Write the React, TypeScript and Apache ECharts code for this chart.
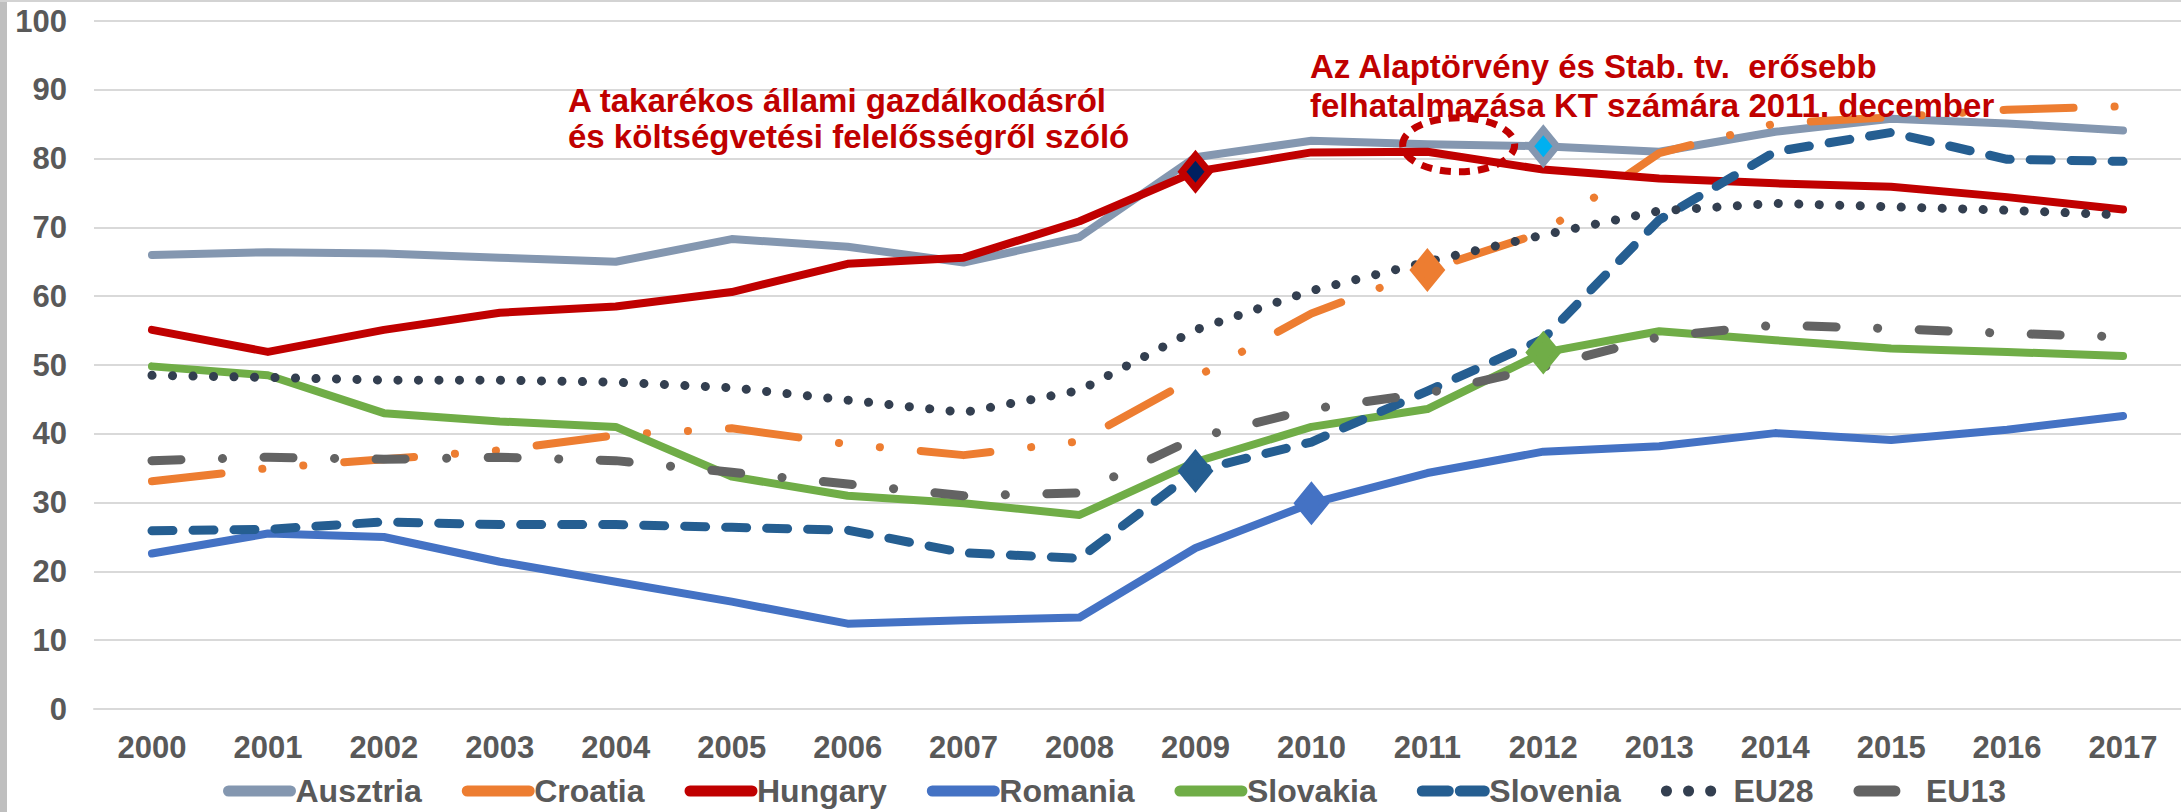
import React, { useEffect, useRef } from "react";
import * as echarts from "echarts";

// ---------------- data ----------------
const YEARS = ["2000", "2001", "2002", "2003", "2004", "2005", "2006", "2007", "2008", "2009", "2010", "2011", "2012", "2013", "2014", "2015", "2016", "2017"];

const AUSZTRIA = [66.0, 66.4, 66.2, 65.6, 65.0, 68.3, 67.2, 64.9, 68.6, 80.2, 82.6, 82.1, 81.8, 81.0, 83.9, 85.8, 85.1, 84.1];
const CROATIA = [33.1, 35.0, 36.3, 37.6, 39.8, 40.8, 38.5, 36.9, 38.9, 48.2, 57.5, 63.8, 69.3, 80.8, 85.1, 86.0, 87.1, 87.6];
const HUNGARY = [55.1, 51.9, 55.1, 57.6, 58.5, 60.6, 64.7, 65.6, 70.9, 78.1, 80.9, 81.0, 78.4, 77.1, 76.4, 75.9, 74.4, 72.6];
const ROMANIA = [22.6, 25.5, 25.0, 21.4, 18.5, 15.6, 12.4, 12.9, 13.3, 23.4, 29.9, 34.3, 37.4, 38.2, 40.1, 39.1, 40.6, 42.6];
const SLOVAKIA = [49.8, 48.5, 43.0, 41.8, 41.0, 33.8, 31.0, 29.9, 28.2, 35.9, 41.0, 43.6, 51.8, 54.9, 53.6, 52.4, 51.9, 51.3];
const SLOVENIA = [25.9, 26.1, 27.2, 26.8, 26.8, 26.4, 26.0, 22.7, 21.9, 34.6, 38.8, 46.2, 53.8, 71.1, 81.0, 83.8, 79.9, 79.6];
const EU28 = [48.5, 48.2, 47.8, 47.8, 47.5, 46.7, 44.9, 43.1, 46.3, 55.1, 60.8, 65.0, 68.9, 72.4, 73.5, 73.0, 72.5, 71.8];
const EU13 = [36.1, 36.6, 36.3, 36.6, 36.1, 34.4, 32.7, 31.0, 31.4, 39.4, 43.6, 45.9, 49.7, 54.1, 55.8, 55.3, 54.6, 54.1];

const Y_MIN = 0;
const Y_MAX = 100;
const Y_STEP = 10;

const NOTE_1 = ["A takarékos állami gazdálkodásról", "és költségvetési felelősségről szóló"];
const NOTE_2 = ["Az Alaptörvény és Stab. tv.  erősebb", "felhatalmazása KT számára 2011. december"];

// highlighted points (series name, year index)
const MARKERS = [
  { series: "Hungary", index: 9, fill: "#002060", border: "#C00000" },
  { series: "Ausztria", index: 12, fill: "#00B0F0", border: "#8497B0" },
  { series: "Croatia", index: 11, fill: "#ED7D31", border: "#ED7D31" },
  { series: "Slovenia", index: 9, fill: "#255E91", border: "#255E91" },
  { series: "Romania", index: 10, fill: "#4472C4", border: "#4472C4" },
  { series: "Slovakia", index: 12, fill: "#70AD47", border: "#70AD47" },
];

// dotted ellipse annotation around 2011 (year index, value)
const ELLIPSE = { index: 11.27, value: 82.0, rx: 56, ry: 27 };

// ---------------- styles ----------------
const FONT = '"Liberation Sans", Arial, Helvetica, sans-serif';
const TEXT_GRAY = "#595959";
const NOTE_RED = "#C00000";

const SERIES_DEFS = [
  { name: "Ausztria", data: AUSZTRIA, color: "#8497B0", width: 8, type: "solid" as any },
  { name: "Croatia", data: CROATIA, color: "#ED7D31", width: 8, type: [70, 41, 0.1, 41, 0.1, 41] },
  { name: "Hungary", data: HUNGARY, color: "#C00000", width: 8, type: "solid" as any },
  { name: "Romania", data: ROMANIA, color: "#4472C4", width: 8, type: "solid" as any },
  { name: "Slovakia", data: SLOVAKIA, color: "#70AD47", width: 8, type: "solid" as any },
  { name: "Slovenia", data: SLOVENIA, color: "#255E91", width: 9, type: [21, 20] },
  { name: "EU28", data: EU28, color: "#333F50", width: 9, type: [0.1, 20.4] },
  { name: "EU13", data: EU13, color: "#636363", width: 9, type: [29, 41.5, 0.1, 41.5] },
];

const LEGEND_DASH: Record<string, any> = {
  Slovenia: [26, 12],
  EU28: [0.1, 22],
  EU13: [36, 40],
};

export default function App() {
  const ref = useRef<HTMLDivElement>(null);

  useEffect(() => {
    if (!ref.current) return;
    const chart = echarts.init(ref.current, undefined, { renderer: "svg" });

    const series = SERIES_DEFS.map((s) => ({
      name: s.name,
      type: "line",
      symbol: "none",
      showSymbol: true,
      data: s.data.map((v, i) => {
        const m = MARKERS.find((mk) => mk.series === s.name && mk.index === i);
        if (!m) return v;
        return {
          value: v,
          symbol: "diamond",
          symbolSize: [27, 33],
          itemStyle: { color: m.fill, borderColor: m.border, borderWidth: 7 },
        };
      }),
      lineStyle: { color: s.color, width: s.width, type: s.type, cap: "round", join: "round" },
      itemStyle: { color: s.color },
      emphasis: { disabled: true },
      z: 2,
    }));

    const option: any = {
      animation: false,
      backgroundColor: "#ffffff",
      textStyle: { fontFamily: FONT },
      grid: { left: 94, top: 21, width: 2090, height: 688, containLabel: false },
      xAxis: {
        type: "category",
        data: YEARS,
        boundaryGap: true,
        axisLine: { show: true, lineStyle: { color: "#D9D9D9", width: 2 } },
        axisTick: { show: false },
        splitLine: { show: false },
        axisLabel: {
          interval: 0,
          margin: 23,
          color: TEXT_GRAY,
          fontSize: 31,
          fontWeight: "bold",
          fontFamily: FONT,
        },
      },
      yAxis: {
        type: "value",
        min: Y_MIN,
        max: Y_MAX,
        interval: Y_STEP,
        axisLine: { show: false },
        axisTick: { show: false },
        splitLine: { show: true, lineStyle: { color: "#D9D9D9", width: 2 } },
        axisLabel: {
          margin: 27,
          color: TEXT_GRAY,
          fontSize: 31,
          fontWeight: "bold",
          fontFamily: FONT,
        },
      },
      legend: {
        left: 223,
        top: 774,
        padding: 0,
        orient: "horizontal",
        itemWidth: 62,
        itemHeight: 12,
        itemGap: 40,
        selectedMode: false,
        textStyle: { color: TEXT_GRAY, fontSize: 32, fontWeight: "bold", fontFamily: FONT, lineHeight: 34 },
        itemStyle: { opacity: 0 },
        lineStyle: { width: 11, cap: "round" },
        data: SERIES_DEFS.map((s) =>
          LEGEND_DASH[s.name]
            ? { name: s.name, lineStyle: { width: 11, cap: "round", type: LEGEND_DASH[s.name] } }
            : { name: s.name }
        ),
      },
      series,
    };

    chart.setOption(option);

    const base = Math.floor(ELLIPSE.index);
    const p0 = chart.convertToPixel({ gridIndex: 0 }, [base, ELLIPSE.value]) as number[];
    const p1 = chart.convertToPixel({ gridIndex: 0 }, [base + 1, ELLIPSE.value]) as number[];
    const cx = p0[0] + (p1[0] - p0[0]) * (ELLIPSE.index - base);
    const cy = p0[1];

    const noteStyle = (text: string) => ({
      text,
      fill: NOTE_RED,
      fontSize: 33,
      fontWeight: "bold",
      fontFamily: FONT,
      verticalAlign: "middle",
      align: "left",
    });

    chart.setOption({
      graphic: [
        { type: "rect", id: "leftbar", shape: { x: 0, y: 0, width: 7, height: 812 }, style: { fill: "#BFBFBF" }, z: 10 },
        { type: "rect", id: "topbar", shape: { x: 0, y: 0, width: 2181, height: 2 }, style: { fill: "#D3D3D3" }, z: 10 },
        { type: "text", id: "n1a", x: 568, y: 100, style: noteStyle(NOTE_1[0]), z: 10 },
        { type: "text", id: "n1b", x: 568, y: 136, style: noteStyle(NOTE_1[1]), z: 10 },
        { type: "text", id: "n2a", x: 1310, y: 66, style: noteStyle(NOTE_2[0]), z: 10 },
        { type: "text", id: "n2b", x: 1310, y: 105, style: noteStyle(NOTE_2[1]), z: 10 },
        {
          type: "ellipse",
          id: "ell",
          shape: { cx, cy, rx: ELLIPSE.rx, ry: ELLIPSE.ry },
          style: { fill: "none", stroke: NOTE_RED, lineWidth: 7, lineDash: [11, 8] },
          z: 10,
        },
      ],
    });

    return () => chart.dispose();
  }, []);

  return (
    <div
      ref={ref}
      style={{ position: "fixed", left: 0, top: 0, width: 2181, height: 812, background: "#fff" }}
    />
  );
}
